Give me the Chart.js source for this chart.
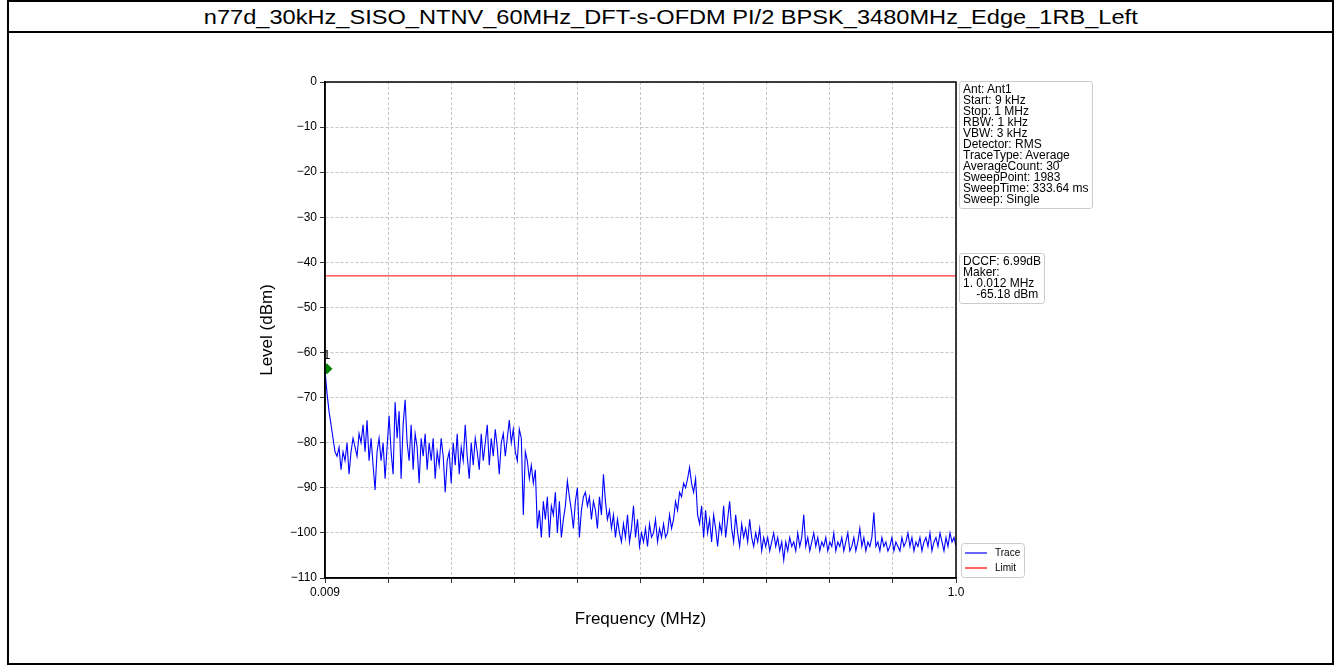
<!DOCTYPE html>
<html>
<head>
<meta charset="utf-8">
<script src="https://cdn.jsdelivr.net/npm/chart.js@4.4.1/dist/chart.umd.min.js"></script>
<style>
  body { margin: 0; background: #fff; font-family: "Liberation Sans", Arial, sans-serif; }
  #wrap { position: relative; width: 1340px; height: 672px; overflow: hidden; }
  #frame { position: absolute; left: 7px; top: 0px; width: 1323px; height: 661px; border: 2px solid #000; }
  #titlebar { position: absolute; left: 0; top: 0; width: 100%; height: 29px; border-bottom: 2px solid #000;
    text-align: center; font-size: 20px; line-height: 30px; color: #000; }
  #titlebar span { display: inline-block; transform: scaleX(1.18); transform-origin: center; }
  #cv { position: absolute; left: 0; top: 0; }
  .info { position: absolute; border: 1px solid #cccccc; border-radius: 3px; background: #fff;
    font-size: 12px; line-height: 11px; color: #000; padding: 2px 3px 3px 3px; white-space: pre; }
</style>
</head>
<body>
<div id="wrap">
  <div id="frame"><div id="titlebar"><span>n77d_30kHz_SISO_NTNV_60MHz_DFT-s-OFDM PI/2 BPSK_3480MHz_Edge_1RB_Left</span></div></div>
  <canvas id="cv" width="1340" height="672"></canvas>
  <div class="info" style="left:959px; top:81px;">Ant: Ant1
Start: 9 kHz
Stop: 1 MHz
RBW: 1 kHz
VBW: 3 kHz
Detector: RMS
TraceType: Average
AverageCount: 30
SweepPoint: 1983
SweepTime: 333.64 ms
Sweep: Single</div>
  <div class="info" style="left:959px; top:253px;">DCCF: 6.99dB
Maker:
1. 0.012 MHz
    -65.18 dBm</div>
</div>
<script>
// sweep settings (MHz)
var startFreq = 0.009;
var stopFreq = 1.0;
var limitLevel = -43;
var markerFreq = 0.012;
var markerLevel = -63.6;
var xTickLabels = ['0.009', '1.0'];
var yTicks = [0, -10, -20, -30, -40, -50, -60, -70, -80, -90, -100, -110];

// trace levels (dBm), evenly spaced from start to stop
var traceLevels = [
  -64, -69, -73, -76, -79, -82, -83, -81, -86, -82,
  -84, -80, -87, -82, -79, -81, -83, -78, -80, -76,
  -82, -75, -84, -79, -85, -90.5, -82, -79, -84, -80,
  -88, -81, -74, -82, -87, -71, -79, -73, -88, -76,
  -70.5, -80, -84, -76, -86, -78, -81, -89, -79, -83,
  -78, -86, -80, -84, -79, -88, -82, -85, -79, -83,
  -91, -84, -82, -89, -80, -85, -78, -87, -81, -84,
  -76, -83, -88, -80, -85, -79, -82, -86, -78, -84,
  -80, -76, -85, -79, -83, -77, -81, -87, -80, -78,
  -83, -79, -75, -80, -77, -82, -84, -77, -79, -96,
  -82, -84, -88, -85, -89, -86, -99, -95, -101, -93,
  -97, -92, -101, -94, -96, -91, -100, -93, -101, -97,
  -94, -88.5, -92, -95, -99, -93, -90, -101, -95, -92,
  -91, -94, -92, -97, -93, -95, -99, -92, -96, -87,
  -93, -97, -95, -99, -96, -101, -97, -100, -102, -98,
  -101, -96, -102, -99, -94, -101, -97, -103, -100, -102,
  -99, -103, -98, -101, -100, -97, -102, -99, -101, -98,
  -101, -100, -96, -99, -97, -93, -95, -91, -92, -89,
  -90, -88, -85.5, -89, -91, -88, -96, -98, -94, -101,
  -95, -100, -97, -102, -96, -99, -103, -98, -100, -94,
  -101, -97, -93, -99, -102, -96, -100, -103, -98, -101,
  -99, -102, -97, -101, -103, -100, -102, -99, -104, -101,
  -103, -101, -104, -102, -100, -103, -101, -104, -102, -106,
  -102, -104, -101, -103, -102, -104, -100, -103, -101, -96,
  -103, -101, -104, -102, -100, -103, -101, -104, -102, -103,
  -101, -104, -102, -103, -100, -104, -102, -103, -101, -104,
  -102, -100, -104, -103, -101, -104, -102, -99, -103, -101,
  -104, -102, -103, -101, -95.5, -103, -102, -104, -101, -103,
  -102, -104, -103, -101, -104, -102, -103, -104, -101, -103,
  -102, -100, -103, -101, -104, -102, -103, -101, -104, -102,
  -101, -103, -100, -104, -102, -101, -103, -100, -102, -104,
  -101, -103, -100, -102, -101, -103
];

var tracePts = [];
for (var i = 0; i < traceLevels.length; i++) {
  var f = startFreq + i * (stopFreq - startFreq) / (traceLevels.length - 1);
  tracePts.push({ x: f, y: traceLevels[i] });
}

// box around plot + marker label + legend in lower right
var extras = {
  id: 'extras',
  afterDatasetsDraw: function(chart) {
    var ctx = chart.ctx, a = chart.chartArea;
    ctx.save();
    ctx.strokeStyle = '#000';
    ctx.lineWidth = 1.5;
    ctx.strokeRect(a.left, a.top, a.right - a.left, a.bottom - a.top);
    // marker number
    var xs = chart.scales.x, ys = chart.scales.y;
    ctx.fillStyle = '#000';
    ctx.font = '13px "Liberation Sans", Arial';
    ctx.textAlign = 'center';
    ctx.textBaseline = 'middle';
    ctx.fillText('1', xs.getPixelForValue(markerFreq), ys.getPixelForValue(markerLevel) - 13);
    // legend
    var lx = a.right + 5, ly = a.bottom - 35;
    ctx.fillStyle = '#fff';
    ctx.strokeStyle = '#cccccc';
    ctx.lineWidth = 1;
    ctx.beginPath();
    ctx.roundRect(lx + 0.5, ly + 0.5, 63, 34, 3);
    ctx.fill();
    ctx.stroke();
    ctx.font = '10px "Liberation Sans", Arial';
    ctx.textAlign = 'left';
    var ds = chart.data.datasets.slice(0, 2);
    ds.forEach(function(d, k) {
      var yy = ly + 10 + k * 15;
      ctx.strokeStyle = d.borderColor;
      ctx.lineWidth = 1.2;
      ctx.beginPath();
      ctx.moveTo(lx + 4, yy);
      ctx.lineTo(lx + 26, yy);
      ctx.stroke();
      ctx.fillStyle = '#000';
      ctx.fillText(d.label, lx + 34, yy);
    });
    ctx.restore();
  }
};

new Chart(document.getElementById('cv'), {
  type: 'line',
  data: {
    datasets: [
      { label: 'Trace', data: tracePts, borderColor: '#0000ff', borderWidth: 1.1, pointRadius: 0, tension: 0 },
      { label: 'Limit', data: [{ x: startFreq, y: limitLevel }, { x: stopFreq, y: limitLevel }],
        borderColor: '#ff0000', borderWidth: 1, pointRadius: 0 },
      { label: 'Marker', data: [{ x: markerFreq, y: markerLevel }], showLine: false,
        pointStyle: 'rectRot', pointRadius: 5, backgroundColor: '#008000', borderColor: '#008000' }
    ]
  },
  options: {
    responsive: false,
    animation: false,
    layout: { padding: { left: 253, top: 82, right: 384, bottom: 38 } },
    plugins: { legend: { display: false }, tooltip: { enabled: false } },
    scales: {
      x: {
        type: 'linear',
        min: startFreq,
        max: stopFreq,
        afterBuildTicks: function(scale) {
          var t = [];
          for (var k = 0; k <= 10; k++) t.push({ value: startFreq + k * (stopFreq - startFreq) / 10 });
          scale.ticks = t;
        },
        afterFit: function(scale) { scale.height = 56; },
        ticks: {
          color: '#000', font: { size: 12, family: '"Liberation Sans", Arial' }, maxRotation: 0, autoSkip: false,
          padding: 2,
          callback: function(v, i) { return i === 0 ? xTickLabels[0] : (i === 10 ? xTickLabels[1] : ''); }
        },
        grid: { color: '#b8b8b8', tickColor: '#000', tickLength: 5, tickBorderDash: [], lineWidth: 0.8 },
        border: { color: '#000', width: 1.5, dash: [3, 2] },
        title: { display: true, text: 'Frequency (MHz)', color: '#000', font: { size: 17, family: '"Liberation Sans", Arial' } }
      },
      y: {
        min: -110,
        max: 0,
        afterBuildTicks: function(scale) { scale.ticks = yTicks.map(function(v) { return { value: v }; }); },
        afterFit: function(scale) { scale.width = 72; },
        ticks: {
          color: '#000', font: { size: 12, family: '"Liberation Sans", Arial' }, padding: 3,
          callback: function(v) { return v < 0 ? '\u2212' + Math.abs(v) : String(v); }
        },
        grid: { color: '#b8b8b8', tickColor: '#000', tickLength: 5, tickBorderDash: [], lineWidth: 0.8 },
        border: { color: '#000', width: 1.5, dash: [3, 2] },
        title: { display: true, text: 'Level (dBm)', color: '#000', font: { size: 17, family: '"Liberation Sans", Arial' } }
      }
    }
  },
  plugins: [extras]
});
</script>
</body>
</html>
